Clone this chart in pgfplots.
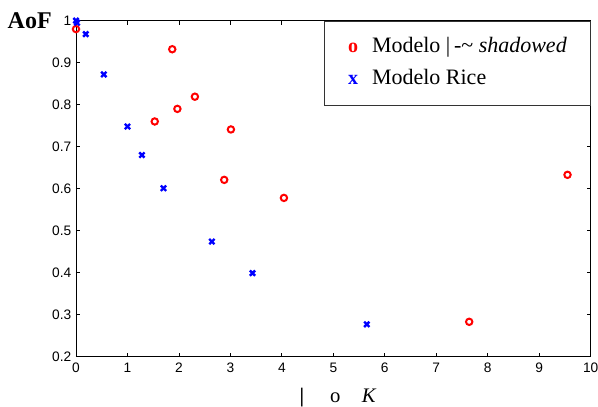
\documentclass[border=0pt]{standalone}
\usepackage{fontspec}
\setmainfont{Liberation Serif}
\setsansfont{Liberation Sans}
\usepackage{pgfplots}
\pgfplotsset{compat=1.18}

\begin{document}
\begin{tikzpicture}
    \begin{axis}[
        scale only axis,
        width=386pt,
        height=252pt,
        xmin=0, xmax=10,
        ymin=0.2, ymax=1,
        xtick={0,1,...,10},
        ytick={0.2,0.3,0.4,0.5,0.6,0.7,0.8,0.9,1},
        yticklabels={0.2,0.3,0.4,0.5,0.6,0.7,0.8,0.9,1},
        tick pos=both,
        tick align=inside,
        major tick length=3pt,
        axis line style={line width=0.7pt},
        every tick/.style={black, line width=0.6pt},
        tick label style={font=\fontsize{10.3}{12}\selectfont\sffamily},
        /pgf/number format/assume math mode=true,
        xticklabel style={yshift=-1pt},
        clip=false,
        xlabel={\textbf{|}\hspace{19.5pt}o\hspace{16pt}\textit{K}},
        xlabel style={at={(rel axis cs:0.5,0)}, anchor=base,
            yshift=-34.5pt, xshift=3.5pt,
            font=\fontsize{15.5}{18}\selectfont},
        legend style={
            at={(rel axis cs:1,1)}, anchor=north east,
            draw=black!80, line width=0.8pt,
            font=\fontsize{16.5}{20}\selectfont,
            inner xsep=17.5pt, inner ysep=11.5pt,
            row sep=8pt,
            nodes={inner sep=0pt, text height=12pt, text depth=4pt},
            /tikz/every odd column/.append style={column sep=10.5pt},
        },
        legend cell align=left,
    ]
        \addplot+[only marks, mark=o, color=red, mark size=2.4pt,
            line width=1.5pt,
            legend image code/.code={\node[anchor=base, red, inner sep=0pt,
                font=\fontsize{15}{18}\selectfont\bfseries] at (0.15cm,-4pt) {o};}]
            coordinates {
            (0.00,0.980)
            (1.87,0.932)
            (1.53,0.760)
            (1.97,0.790)
            (2.31,0.819)
            (3.01,0.741)
            (2.88,0.621)
            (4.04,0.578)
            (7.64,0.283)
            (9.55,0.633)
        };
        \addlegendentry{Modelo |\,-\textasciitilde\ \textit{shadowed}}
        \addplot+[only marks, mark=x, color=blue, mark size=2.8pt,
            line width=1.8pt,
            legend image code/.code={\node[anchor=base, blue, inner sep=0pt,
                font=\fontsize{15}{18}\selectfont\bfseries] at (0.15cm,-4pt) {x};}]
            coordinates {
            (0.00,1.000)
            (0.02,0.995)
            (0.19,0.968)
            (0.54,0.872)
            (1.00,0.748)
            (1.28,0.680)
            (1.70,0.601)
            (2.64,0.474)
            (3.43,0.399)
            (5.65,0.277)
        };
        \addlegendentry{Modelo Rice}
        \node[anchor=base east, inner sep=0pt, xshift=-18pt, yshift=-6.2pt,
            font=\fontsize{18}{20}\selectfont\bfseries]
            at (rel axis cs:0,1) {AoF};
    \end{axis}
    \pgfresetboundingbox
    \path[use as bounding box] (-57pt,-37pt) rectangle (391.5pt,267.5pt);
\end{tikzpicture}
\end{document}
